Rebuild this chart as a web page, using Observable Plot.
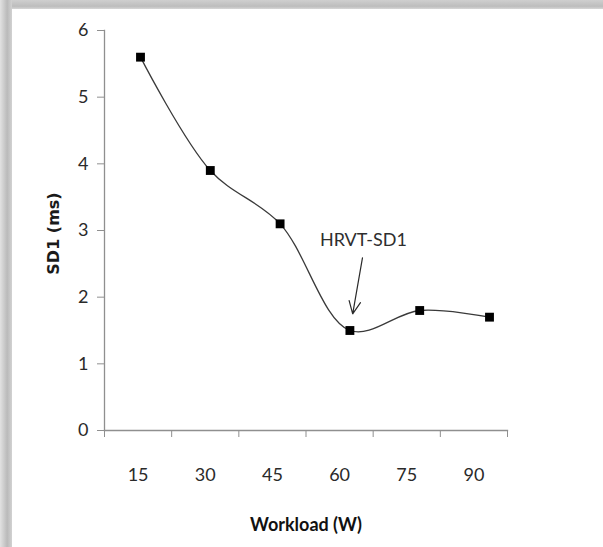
<!DOCTYPE html>
<html>
<head>
<meta charset="utf-8">
<script src="https://cdn.jsdelivr.net/npm/d3@7"></script>
<script src="https://cdn.jsdelivr.net/npm/@observablehq/plot@0.6"></script>
<style>
  html, body { margin: 0; padding: 0; background: #fff; }
  #wrap { position: relative; width: 603px; height: 547px; overflow: hidden; background: #fff; }
  #wrap svg { position: absolute; left: 0; top: 0; }
  .shadowTop { position: absolute; left: 0; top: 0; width: 603px; height: 9px; z-index: 5;
    background: linear-gradient(to bottom, #cfcfcf, #bdbdbd 70%, #d6d6d6); }
  .shadowLeft { position: absolute; left: 0; top: 0; width: 12px; height: 547px; z-index: 5;
    background: linear-gradient(to right, #e2e2e2, #bababa 60%, #d2d2d2); }
</style>
</head>
<body>
<div id="wrap"></div>
<script>
// ---- data ----
const workloads = [15, 30, 45, 60, 75, 90];
const sd1 = [5.6, 3.9, 3.1, 1.5, 1.8, 1.7];
const yTicks = [0, 1, 2, 3, 4, 5, 6];
const xLabel = "Workload (W)";
const yLabel = "SD1 (ms)";
const annText = ["HRVT-SD1"];
const annTextX = [62.9];
const annTextY = [2.86];
const annArrowFrom = [62.7, 2.59];
const annArrowTo = [60.6, 1.75];

const data = workloads.map((w, i) => ({w, v: sd1[i]}));
const step = workloads[1] - workloads[0];
const boundaries = workloads.map(w => w - step / 2).concat([workloads[workloads.length - 1] + step / 2]);

const W = 603, H = 547;
const axisColor = "#8f8f8f";
const tickFont = "Lato, 'DejaVu Sans', sans-serif";

// ---- axes layer ----
const axes = Plot.plot({
  width: W, height: H,
  marginLeft: 104, marginRight: 96, marginTop: 30, marginBottom: 117,
  style: {background: "transparent", fontFamily: tickFont, fontSize: "18px", color: "#333"},
  x: {type: "linear", domain: [boundaries[0], boundaries[boundaries.length - 1]]},
  y: {domain: [0, 6]},
  marks: [
    Plot.frame({anchor: "left", stroke: axisColor, strokeWidth: 1.3}),
    Plot.frame({anchor: "bottom", stroke: axisColor, strokeWidth: 1.3}),
    Plot.axisY({ticks: yTicks, tickSize: 7, tickPadding: 9, stroke: axisColor, label: null,
      fontSize: 18, fill: "#2a2a2a", tickFormat: d3.format("d")}),
    Plot.axisX({ticks: boundaries, tickSize: 7, tickFormat: () => "", stroke: axisColor, label: null}),
    Plot.axisX({ticks: workloads, tickSize: 0, tickPadding: 38, label: null,
      fontSize: 18, fill: "#2a2a2a", tickFormat: d3.format("d")}),
    Plot.text([xLabel], {frameAnchor: "bottom", dy: 95, lineAnchor: "middle", textAnchor: "middle",
      fontSize: 18, fill: "#111", fontWeight: "bold", text: d => d}),
    Plot.text([yLabel], {frameAnchor: "left", dx: -51, dy: 3, rotate: -90, lineAnchor: "middle",
      textAnchor: "middle",
      fontFamily: "'DejaVu Sans', sans-serif", fontWeight: "bold", fontSize: 16,
      fill: "#1a1a1a", text: d => d, style: "letter-spacing:2.3px"})
  ]
});

// ---- data layer ----
const chart = Plot.plot({
  width: W, height: H,
  marginLeft: 140, marginRight: 114, marginTop: 30, marginBottom: 117,
  style: {background: "transparent", fontFamily: tickFont},
  x: {type: "linear", domain: [workloads[0], workloads[workloads.length - 1]], axis: null},
  y: {domain: [0, 6], axis: null},
  marks: [
    Plot.line(data, {x: "w", y: "v", curve: "catmull-rom", stroke: "#3a3a3a", strokeWidth: 1.3}),
    Plot.dot(data, {x: "w", y: "v", symbol: "square", r: 5, fill: "#000", stroke: "none"}),
    Plot.arrow([0], {x1: annArrowFrom[0], y1: annArrowFrom[1], x2: annArrowTo[0], y2: annArrowTo[1],
      stroke: "#2a2a2a", strokeWidth: 1.2, headLength: 17, headAngle: 50}),
    Plot.text(annText, {x: annTextX, y: annTextY, text: d => d, fontSize: 18, fill: "#2e2e2e",
      fontFamily: tickFont, lineAnchor: "middle"})
  ]
});

const wrap = document.getElementById("wrap");
wrap.appendChild(axes);
wrap.appendChild(chart);
const t = document.createElement("div"); t.className = "shadowTop"; wrap.appendChild(t);
const l = document.createElement("div"); l.className = "shadowLeft"; wrap.appendChild(l);
</script>
</body>
</html>
